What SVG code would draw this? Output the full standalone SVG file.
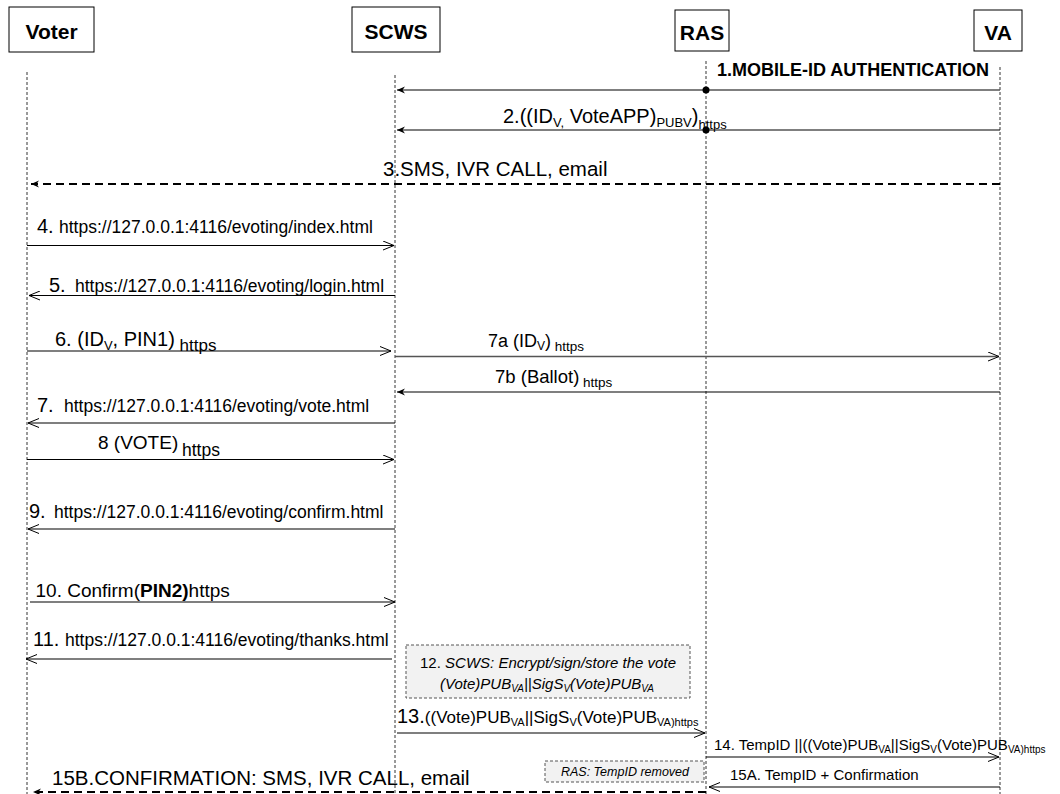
<svg xmlns="http://www.w3.org/2000/svg" width="1060" height="794" viewBox="0 0 1060 794">
<style>
text{font-family:"Liberation Sans",Arial,sans-serif;fill:#000}
.hd{font-weight:bold;font-size:21px;text-anchor:middle}
.box{fill:#fff;stroke:#000;stroke-width:1}
.life{stroke:#000;stroke-width:0.8;stroke-dasharray:3,2;fill:none}
.msg{stroke:#000;stroke-width:1.2;fill:none}
.gmsg{stroke:#555;stroke-width:1.6;fill:none}
.dash{stroke:#000;stroke-width:2;stroke-dasharray:8,5;fill:none}
.note{fill:#f2f2f2;stroke:#555;stroke-width:1;stroke-dasharray:3,2}
.it{font-style:italic}
</style>
<defs>
<marker id="open" viewBox="0 0 12 10" refX="11" refY="5" markerWidth="12" markerHeight="10" markerUnits="userSpaceOnUse" orient="auto"><path d="M0,0.5 L11,5 L0,9.5" fill="none" stroke="#000" stroke-width="1"/></marker>
<marker id="solid" viewBox="0 0 9 8" refX="8" refY="4" markerWidth="9" markerHeight="8" markerUnits="userSpaceOnUse" orient="auto"><path d="M0,0.5 L8,4 L0,7.5 L2.5,4 Z" fill="#000"/></marker>
</defs>

<g id="voter">
<rect class="box" x="9" y="7" width="85" height="45"/>
<text class="hd" x="51.5" y="39">Voter</text>
<line class="life" x1="27" y1="72" x2="27" y2="794"/>
</g>
<g id="scws">
<rect class="box" x="352" y="7" width="88" height="45"/>
<text class="hd" x="396" y="39">SCWS</text>
<line class="life" x1="395" y1="75" x2="395" y2="794"/>
</g>
<g id="ras">
<rect class="box" x="675" y="10" width="54" height="41"/>
<text class="hd" x="702" y="40">RAS</text>
<line class="life" x1="706" y1="61" x2="706" y2="794"/>
</g>
<g id="va">
<rect class="box" x="974" y="10" width="48" height="41"/>
<text class="hd" x="998" y="40">VA</text>
<line class="life" x1="1000" y1="67" x2="1000" y2="794"/>
</g>

<g id="note12">
<rect class="note" x="406" y="645" width="284" height="53"/>
<text x="548" y="668" font-size="15" text-anchor="middle">12. <tspan class="it">SCWS: Encrypt/sign/store the vote</tspan></text>
<text class="it" x="440" y="689" font-size="15">(Vote)PUB<tspan font-size="10" dy="3">VA</tspan><tspan dy="-3">||SigS</tspan><tspan font-size="10" dy="3">V</tspan><tspan dy="-3">(Vote)PUB</tspan><tspan font-size="10" dy="3">VA</tspan></text>
</g>
<g id="noteRAS">
<rect class="note" x="545" y="761" width="159" height="21"/>
<text class="it" x="625" y="776" font-size="12.5" text-anchor="middle">RAS: TempID removed</text>
</g>

<g id="connectors">
<line class="gmsg" x1="1000" y1="90" x2="397" y2="90" marker-end="url(#solid)"/>
<circle cx="706" cy="90" r="3.5" fill="#000"/>
<line class="msg" x1="1000" y1="130" x2="397" y2="130" marker-end="url(#solid)"/>
<circle cx="706" cy="130" r="3.5" fill="#000"/>
<line class="dash" x1="1000" y1="184" x2="31" y2="184" marker-end="url(#solid)"/>
<line class="msg" x1="27" y1="245.5" x2="394" y2="245.5" marker-end="url(#open)"/>
<line class="msg" x1="395" y1="295.5" x2="29" y2="295.5" marker-end="url(#open)"/>
<line class="msg" x1="27" y1="351" x2="391" y2="351" marker-end="url(#open)"/>
<line class="gmsg" x1="395" y1="356.5" x2="999" y2="356.5" marker-end="url(#open)"/>
<line class="msg" x1="1000" y1="392" x2="397" y2="392" marker-end="url(#solid)"/>
<line class="msg" x1="395" y1="423" x2="28" y2="423" marker-end="url(#open)"/>
<line class="msg" x1="27" y1="459.5" x2="394" y2="459.5" marker-end="url(#open)"/>
<line class="msg" x1="395" y1="529" x2="28" y2="529" marker-end="url(#open)"/>
<line class="msg" x1="30" y1="602" x2="395" y2="602" marker-end="url(#open)"/>
<line class="msg" x1="392" y1="659" x2="26" y2="659" marker-end="url(#open)"/>
<line class="msg" x1="397" y1="733" x2="705" y2="733" marker-end="url(#open)"/>
<line class="msg" x1="706" y1="757" x2="999" y2="757" marker-end="url(#open)"/>
<line class="msg" x1="1000" y1="787" x2="709" y2="787" marker-end="url(#open)"/>
<line class="dash" x1="706" y1="792" x2="33" y2="792" marker-end="url(#solid)"/>

<text x="717" y="76" font-size="18" font-weight="bold">1.MOBILE-ID AUTHENTICATION</text>
<text x="503" y="123" font-size="20">2.((ID<tspan font-size="13" dy="4">V,</tspan><tspan dy="-4"> VoteAPP)</tspan><tspan font-size="13" dy="4">PUBV</tspan><tspan dy="-4">)</tspan><tspan font-size="13" dy="6">https</tspan></text>
<text x="383" y="176" font-size="20.5">3.SMS, IVR CALL, email</text>
<text x="37" y="233" font-size="20">4.<tspan x="59" font-size="17.5">https://127.0.0.1:4116/evoting/index.html</tspan></text>
<text x="49" y="292" font-size="20">5.<tspan x="75" font-size="17.5">https://127.0.0.1:4116/evoting/login.html</tspan></text>
<text x="55" y="346" font-size="20">6. (ID<tspan font-size="13" dy="4">V</tspan><tspan dy="-4">, PIN1)</tspan><tspan font-size="17" dy="5"> https</tspan></text>
<text x="488" y="347" font-size="18">7a (ID<tspan font-size="12" dy="3">V</tspan><tspan dy="-3">)</tspan><tspan font-size="13.5" dy="4"> https</tspan></text>
<text x="495" y="383" font-size="18.5">7b (Ballot)<tspan font-size="13.5" dy="4"> https</tspan></text>
<text x="37" y="412" font-size="20">7.<tspan x="64" font-size="17.5">https://127.0.0.1:4116/evoting/vote.html</tspan></text>
<text x="98" y="449" font-size="19">8 (VOTE)<tspan x="182" dy="7" font-size="17.5">https</tspan></text>
<text x="29" y="518" font-size="20">9.<tspan x="54" font-size="17.5">https://127.0.0.1:4116/evoting/confirm.html</tspan></text>
<text x="35.5" y="597" font-size="19">10. Confirm(<tspan font-weight="bold">PIN2)</tspan>https</text>
<text x="33" y="646" font-size="20">11.<tspan x="65" font-size="17.5">https://127.0.0.1:4116/evoting/thanks.html</tspan></text>
<text x="397" y="723" font-size="20">13.<tspan font-size="17">((Vote)PUB</tspan><tspan font-size="11" dy="3">VA</tspan><tspan font-size="17" dy="-3">||SigS</tspan><tspan font-size="11" dy="3">V</tspan><tspan font-size="17" dy="-3">(Vote)PUB</tspan><tspan font-size="11" dy="3">VA)https</tspan></text>
<text x="714" y="750" font-size="15">14. TempID ||((Vote)PUB<tspan font-size="10" dy="3">VA</tspan><tspan dy="-3">||SigS</tspan><tspan font-size="10" dy="3">V</tspan><tspan dy="-3">(Vote)PUB</tspan><tspan font-size="10" dy="3">VA)https</tspan></text>
<text x="730" y="780" font-size="15">15A. TempID + Confirmation</text>
<text x="52" y="785" font-size="20.5">15B.CONFIRMATION: SMS, IVR CALL, email</text>
</g>
</svg>
